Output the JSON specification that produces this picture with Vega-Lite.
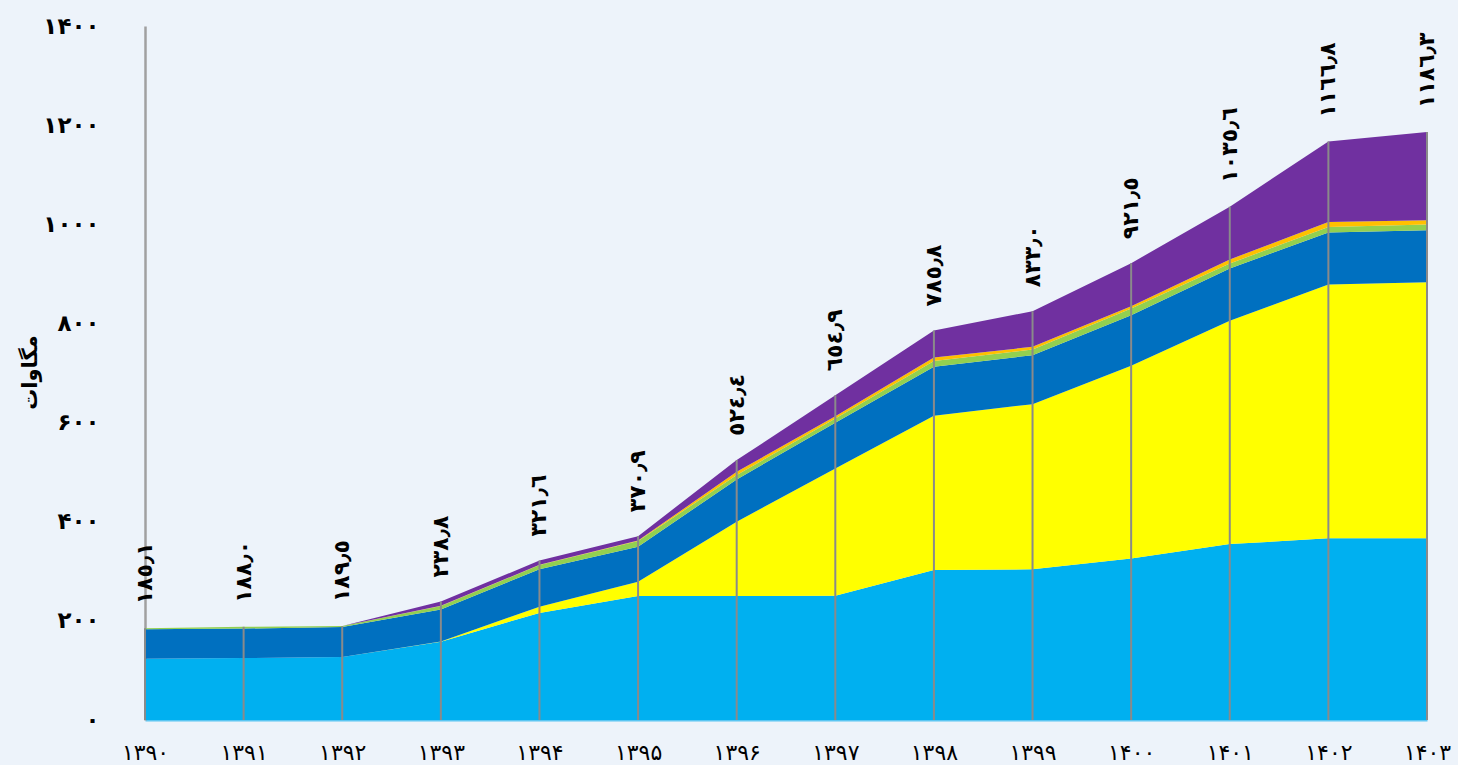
{
  "$schema": "https://vega.github.io/schema/vega-lite/v6.json",
  "width": 1282,
  "height": 694,
  "autosize": {"type": "none"},
  "padding": {"left": 145, "top": 26, "right": 31, "bottom": 45},
  "background": "#EDF3FA",
  "config": {
    "view": {"stroke": null},
    "font": "DejaVu Sans"
  },
  "datasets": {
    "layers": [
      {"year": "۱۳۹۰", "source": "بادی", "rank": 1, "mw": 123.6},
      {"year": "۱۳۹۰", "source": "خورشیدی", "rank": 2, "mw": 0},
      {"year": "۱۳۹۰", "source": "برق‌آبی کوچک", "rank": 3, "mw": 59.3},
      {"year": "۱۳۹۰", "source": "زیست‌توده", "rank": 4, "mw": 2.2},
      {"year": "۱۳۹۰", "source": "بازیافت حرارت", "rank": 5, "mw": 0},
      {"year": "۱۳۹۰", "source": "مقیاس کوچک", "rank": 6, "mw": 0},

      {"year": "۱۳۹۱", "source": "بادی", "rank": 1, "mw": 125},
      {"year": "۱۳۹۱", "source": "خورشیدی", "rank": 2, "mw": 0},
      {"year": "۱۳۹۱", "source": "برق‌آبی کوچک", "rank": 3, "mw": 59.5},
      {"year": "۱۳۹۱", "source": "زیست‌توده", "rank": 4, "mw": 3.5},
      {"year": "۱۳۹۱", "source": "بازیافت حرارت", "rank": 5, "mw": 0},
      {"year": "۱۳۹۱", "source": "مقیاس کوچک", "rank": 6, "mw": 0},

      {"year": "۱۳۹۲", "source": "بادی", "rank": 1, "mw": 127},
      {"year": "۱۳۹۲", "source": "خورشیدی", "rank": 2, "mw": 0},
      {"year": "۱۳۹۲", "source": "برق‌آبی کوچک", "rank": 3, "mw": 60.5},
      {"year": "۱۳۹۲", "source": "زیست‌توده", "rank": 4, "mw": 2.0},
      {"year": "۱۳۹۲", "source": "بازیافت حرارت", "rank": 5, "mw": 0},
      {"year": "۱۳۹۲", "source": "مقیاس کوچک", "rank": 6, "mw": 0},

      {"year": "۱۳۹۳", "source": "بادی", "rank": 1, "mw": 158},
      {"year": "۱۳۹۳", "source": "خورشیدی", "rank": 2, "mw": 0.5},
      {"year": "۱۳۹۳", "source": "برق‌آبی کوچک", "rank": 3, "mw": 64.5},
      {"year": "۱۳۹۳", "source": "زیست‌توده", "rank": 4, "mw": 7},
      {"year": "۱۳۹۳", "source": "بازیافت حرارت", "rank": 5, "mw": 0.3},
      {"year": "۱۳۹۳", "source": "مقیاس کوچک", "rank": 6, "mw": 8.5},

      {"year": "۱۳۹۴", "source": "بادی", "rank": 1, "mw": 216},
      {"year": "۱۳۹۴", "source": "خورشیدی", "rank": 2, "mw": 12.5},
      {"year": "۱۳۹۴", "source": "برق‌آبی کوچک", "rank": 3, "mw": 75.5},
      {"year": "۱۳۹۴", "source": "زیست‌توده", "rank": 4, "mw": 8.5},
      {"year": "۱۳۹۴", "source": "بازیافت حرارت", "rank": 5, "mw": 0.5},
      {"year": "۱۳۹۴", "source": "مقیاس کوچک", "rank": 6, "mw": 8.6},

      {"year": "۱۳۹۵", "source": "بادی", "rank": 1, "mw": 250},
      {"year": "۱۳۹۵", "source": "خورشیدی", "rank": 2, "mw": 29},
      {"year": "۱۳۹۵", "source": "برق‌آبی کوچک", "rank": 3, "mw": 70.5},
      {"year": "۱۳۹۵", "source": "زیست‌توده", "rank": 4, "mw": 11.5},
      {"year": "۱۳۹۵", "source": "بازیافت حرارت", "rank": 5, "mw": 1},
      {"year": "۱۳۹۵", "source": "مقیاس کوچک", "rank": 6, "mw": 8.9},

      {"year": "۱۳۹۶", "source": "بادی", "rank": 1, "mw": 250},
      {"year": "۱۳۹۶", "source": "خورشیدی", "rank": 2, "mw": 150},
      {"year": "۱۳۹۶", "source": "برق‌آبی کوچک", "rank": 3, "mw": 85.4},
      {"year": "۱۳۹۶", "source": "زیست‌توده", "rank": 4, "mw": 8.6},
      {"year": "۱۳۹۶", "source": "بازیافت حرارت", "rank": 5, "mw": 6.7},
      {"year": "۱۳۹۶", "source": "مقیاس کوچک", "rank": 6, "mw": 23.7},

      {"year": "۱۳۹۷", "source": "بادی", "rank": 1, "mw": 250.6},
      {"year": "۱۳۹۷", "source": "خورشیدی", "rank": 2, "mw": 256.9},
      {"year": "۱۳۹۷", "source": "برق‌آبی کوچک", "rank": 3, "mw": 92},
      {"year": "۱۳۹۷", "source": "زیست‌توده", "rank": 4, "mw": 8.9},
      {"year": "۱۳۹۷", "source": "بازیافت حرارت", "rank": 5, "mw": 4.6},
      {"year": "۱۳۹۷", "source": "مقیاس کوچک", "rank": 6, "mw": 41.9},

      {"year": "۱۳۹۸", "source": "بادی", "rank": 1, "mw": 302.5},
      {"year": "۱۳۹۸", "source": "خورشیدی", "rank": 2, "mw": 311.1},
      {"year": "۱۳۹۸", "source": "برق‌آبی کوچک", "rank": 3, "mw": 98.8},
      {"year": "۱۳۹۸", "source": "زیست‌توده", "rank": 4, "mw": 11.6},
      {"year": "۱۳۹۸", "source": "بازیافت حرارت", "rank": 5, "mw": 7.4},
      {"year": "۱۳۹۸", "source": "مقیاس کوچک", "rank": 6, "mw": 54.4},

      {"year": "۱۳۹۹", "source": "بادی", "rank": 1, "mw": 303.9},
      {"year": "۱۳۹۹", "source": "خورشیدی", "rank": 2, "mw": 333.3},
      {"year": "۱۳۹۹", "source": "برق‌آبی کوچک", "rank": 3, "mw": 98.8},
      {"year": "۱۳۹۹", "source": "زیست‌توده", "rank": 4, "mw": 11.5},
      {"year": "۱۳۹۹", "source": "بازیافت حرارت", "rank": 5, "mw": 5.3},
      {"year": "۱۳۹۹", "source": "مقیاس کوچک", "rank": 6, "mw": 72},

      {"year": "۱۴۰۰", "source": "بادی", "rank": 1, "mw": 325.7},
      {"year": "۱۴۰۰", "source": "خورشیدی", "rank": 2, "mw": 389.1},
      {"year": "۱۴۰۰", "source": "برق‌آبی کوچک", "rank": 3, "mw": 101.9},
      {"year": "۱۴۰۰", "source": "زیست‌توده", "rank": 4, "mw": 13.5},
      {"year": "۱۴۰۰", "source": "بازیافت حرارت", "rank": 5, "mw": 4.6},
      {"year": "۱۴۰۰", "source": "مقیاس کوچک", "rank": 6, "mw": 86.7},

      {"year": "۱۴۰۱", "source": "بادی", "rank": 1, "mw": 354.9},
      {"year": "۱۴۰۱", "source": "خورشیدی", "rank": 2, "mw": 450.7},
      {"year": "۱۴۰۱", "source": "برق‌آبی کوچک", "rank": 3, "mw": 105.3},
      {"year": "۱۴۰۱", "source": "زیست‌توده", "rank": 4, "mw": 10},
      {"year": "۱۴۰۱", "source": "بازیافت حرارت", "rank": 5, "mw": 8.1},
      {"year": "۱۴۰۱", "source": "مقیاس کوچک", "rank": 6, "mw": 106.6},

      {"year": "۱۴۰۲", "source": "بادی", "rank": 1, "mw": 366.4},
      {"year": "۱۴۰۲", "source": "خورشیدی", "rank": 2, "mw": 512.2},
      {"year": "۱۴۰۲", "source": "برق‌آبی کوچک", "rank": 3, "mw": 104.8},
      {"year": "۱۴۰۲", "source": "زیست‌توده", "rank": 4, "mw": 11.3},
      {"year": "۱۴۰۲", "source": "بازیافت حرارت", "rank": 5, "mw": 10.1},
      {"year": "۱۴۰۲", "source": "مقیاس کوچک", "rank": 6, "mw": 162},

      {"year": "۱۴۰۳", "source": "بادی", "rank": 1, "mw": 366.4},
      {"year": "۱۴۰۳", "source": "خورشیدی", "rank": 2, "mw": 516.8},
      {"year": "۱۴۰۳", "source": "برق‌آبی کوچک", "rank": 3, "mw": 104.8},
      {"year": "۱۴۰۳", "source": "زیست‌توده", "rank": 4, "mw": 11.6},
      {"year": "۱۴۰۳", "source": "بازیافت حرارت", "rank": 5, "mw": 8.7},
      {"year": "۱۴۰۳", "source": "مقیاس کوچک", "rank": 6, "mw": 178}
    ],
    "totals": [
      {"year": "۱۳۹۰", "top": 185.1, "label": "١٨٥٫١"},
      {"year": "۱۳۹۱", "top": 188.0, "label": "١٨٨٫٠"},
      {"year": "۱۳۹۲", "top": 189.5, "label": "١٨٩٫٥"},
      {"year": "۱۳۹۳", "top": 238.8, "label": "٢٣٨٫٨"},
      {"year": "۱۳۹۴", "top": 321.6, "label": "٣٢١٫٦"},
      {"year": "۱۳۹۵", "top": 370.9, "label": "٣٧٠٫٩"},
      {"year": "۱۳۹۶", "top": 524.4, "label": "٥٢٤٫٤"},
      {"year": "۱۳۹۷", "top": 654.9, "label": "٦٥٤٫٩"},
      {"year": "۱۳۹۸", "top": 785.8, "label": "٧٨٥٫٨"},
      {"year": "۱۳۹۹", "top": 824.8, "label": "٨٣٣٫٠"},
      {"year": "۱۴۰۰", "top": 921.5, "label": "٩٢١٫٥"},
      {"year": "۱۴۰۱", "top": 1035.6, "label": "١٠٣٥٫٦"},
      {"year": "۱۴۰۲", "top": 1166.8, "label": "١١٦٦٫٨"},
      {"year": "۱۴۰۳", "top": 1186.3, "label": "١١٨٦٫٣"}
    ]
  },
  "layer": [
    {
      "data": {"name": "layers"},
      "mark": {"type": "area", "opacity": 1, "interpolate": "linear"},
      "encoding": {
        "x": {
          "field": "year",
          "type": "ordinal",
          "scale": {"type": "point", "padding": 0},
          "axis": {
            "title": null,
            "labelAngle": 0,
            "labelFont": "DejaVu Sans",
            "labelFontSize": 22,
            "labelFontWeight": "normal",
            "labelColor": "#000000",
            "labelPadding": 22,
            "ticks": false,
            "domain": true,
            "domainColor": "#5BC6F2",
            "domainWidth": 2,
            "grid": false
          }
        },
        "y": {
          "field": "mw",
          "type": "quantitative",
          "stack": "zero",
          "scale": {"domain": [0, 1400], "nice": false},
          "axis": {
            "values": [0, 200, 400, 600, 800, 1000, 1200, 1400],
            "labelExpr": "datum.value == 0 ? '۰' : datum.value == 200 ? '۲۰۰' : datum.value == 400 ? '۴۰۰' : datum.value == 600 ? '۶۰۰' : datum.value == 800 ? '۸۰۰' : datum.value == 1000 ? '۱۰۰۰' : datum.value == 1200 ? '۱۲۰۰' : '۱۴۰۰'",
            "labelFont": "DejaVu Sans",
            "labelFontSize": 23,
            "labelFontWeight": "bold",
            "labelColor": "#000000",
            "labelPadding": 46,
            "ticks": false,
            "grid": false,
            "domain": true,
            "domainColor": "#A0A0A0",
            "domainWidth": 2.5,
            "title": "مگاوات",
            "titleFont": "DejaVu Sans",
            "titleFontSize": 21,
            "titleFontWeight": "bold",
            "titleColor": "#000000",
            "titleAngle": 270,
            "titleX": -115,
            "titleY": 346,
            "titleAlign": "center",
            "titleBaseline": "middle"
          }
        },
        "color": {
          "field": "source",
          "type": "nominal",
          "scale": {
            "domain": ["بادی", "خورشیدی", "برق‌آبی کوچک", "زیست‌توده", "بازیافت حرارت", "مقیاس کوچک"],
            "range": ["#00B0F0", "#FFFF00", "#0070C0", "#92D050", "#FFC000", "#7030A0"]
          },
          "legend": null
        },
        "order": {"field": "rank", "type": "quantitative", "sort": "ascending"}
      }
    },
    {
      "data": {"name": "totals"},
      "mark": {"type": "rule", "color": "#8A8A8A", "strokeWidth": 2},
      "encoding": {
        "x": {"field": "year", "type": "ordinal"},
        "y": {"field": "top", "type": "quantitative"},
        "y2": {"datum": 0}
      }
    },
    {
      "data": {"name": "totals"},
      "mark": {
        "type": "text",
        "angle": 270,
        "align": "left",
        "baseline": "middle",
        "dx": 24,
        "font": "DejaVu Sans",
        "fontSize": 22,
        "fontWeight": "bold",
        "color": "#000000"
      },
      "encoding": {
        "x": {"field": "year", "type": "ordinal"},
        "y": {"field": "top", "type": "quantitative"},
        "text": {"field": "label"}
      }
    }
  ]
}
